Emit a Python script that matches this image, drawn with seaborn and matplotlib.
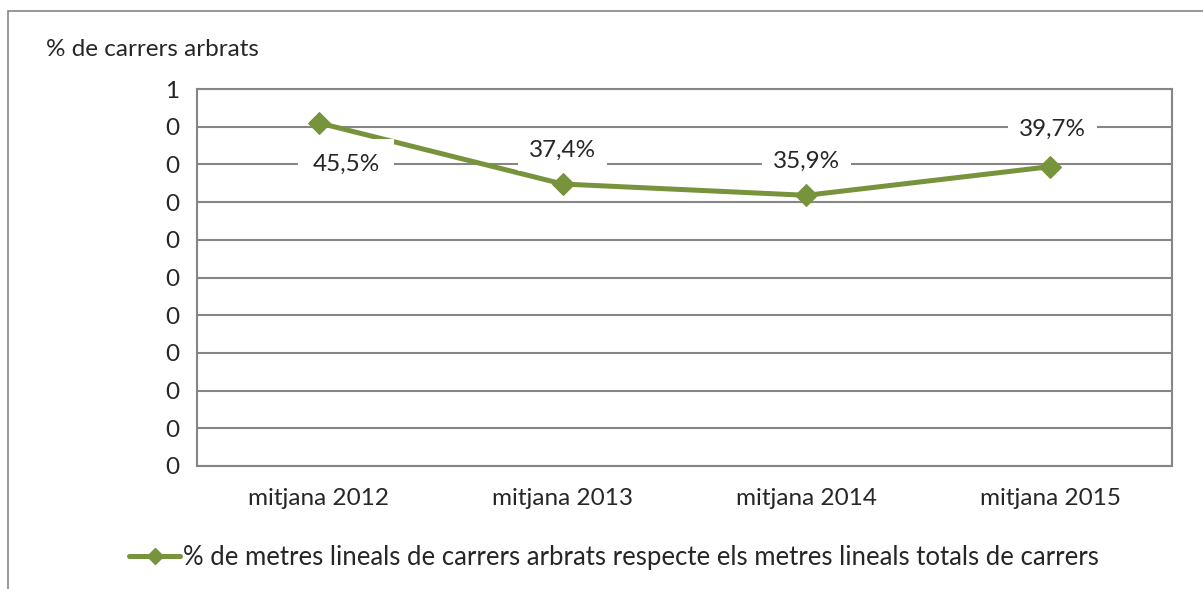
import numpy as np
import pandas as pd
import seaborn as sns
import matplotlib.pyplot as plt
from matplotlib.patches import Rectangle
from matplotlib.lines import Line2D

categories = ['mitjana 2012', 'mitjana 2013', 'mitjana 2014', 'mitjana 2015']
values = [0.455, 0.374, 0.359, 0.397]
labels = ['45,5%', '37,4%', '35,9%', '39,7%']
series_name = '% de metres lineals de carrers arbrats respecte els metres lineals totals de carrers'
y_title = '% de carrers arbrats'

green = '#77933C'
grey = '#868686'
fs = 17.5

sns.set_style('white')
plt.rcParams['font.family'] = ['Lato', 'DejaVu Sans']

df = pd.DataFrame({'cat': categories, 'val': values})

fig = plt.figure(figsize=(12.03, 5.89), dpi=100)
ax = fig.add_axes([197 / 1203, 1 - 466 / 589, (1172 - 197) / 1203, (466 - 89) / 589])

sns.lineplot(data=df, x='cat', y='val', ax=ax, color=green, linewidth=3.6,
             marker='D', markersize=11, markeredgecolor=green, sort=False, zorder=3)

ax.set_xlim(-0.5, 3.5)
ax.set_ylim(0, 0.5)
yt = np.arange(0, 0.5001, 0.05)
ax.set_yticks(yt)
ax.set_yticklabels([str(int(v + 0.5)) for v in yt])
ax.yaxis.grid(True, color=grey, linewidth=1.5)
ax.set_axisbelow(True)
ax.set_xticks(range(len(categories)))
ax.set_xticklabels(categories)
ax.set_xticks(np.arange(-0.5, 3.6, 1), minor=True)
ax.tick_params(axis='x', which='major', length=0, pad=16, labelsize=fs)
ax.tick_params(axis='x', which='minor', length=6, width=1.5, color=grey, direction='out')
ax.tick_params(axis='y', length=7, width=1.5, color=grey, direction='out', pad=6, labelsize=fs)
ax.set_xlabel('')
ax.set_ylabel('')
for s in ax.spines.values():
    s.set_color(grey)
    s.set_linewidth(1.5)

# data labels with white boxes (first one sits below its point)
offsets = [(27, -41), (0, 34), (0, 34), (2, 37)]
for i, (lab, off) in enumerate(zip(labels, offsets)):
    pad = 0.6 if i == 0 else 0.45
    ax.annotate(lab, (i, values[i]), xytext=off, textcoords='offset pixels',
                ha='center', va='center', fontsize=fs, zorder=4,
                bbox=dict(boxstyle=f'square,pad={pad}', fc='white', ec='none'))

fig.text(46 / 1203, 1 - 50 / 589, y_title, fontsize=fs, ha='left', va='center')

handle = Line2D([], [], color=green, linewidth=3.6, marker='D', markersize=8)
fig.legend([handle], [series_name], loc='center', bbox_to_anchor=(614 / 1203, 1 - 557 / 589),
           frameon=False, fontsize=18.5, handlelength=2.0, handletextpad=0.1)

fig.patches.append(Rectangle((8 / 1203, -0.1), 1.2, 1 - 11 / 589 + 0.1, transform=fig.transFigure,
                             fill=False, edgecolor=grey, linewidth=1.2))

fig.savefig('out.png', dpi=100)
